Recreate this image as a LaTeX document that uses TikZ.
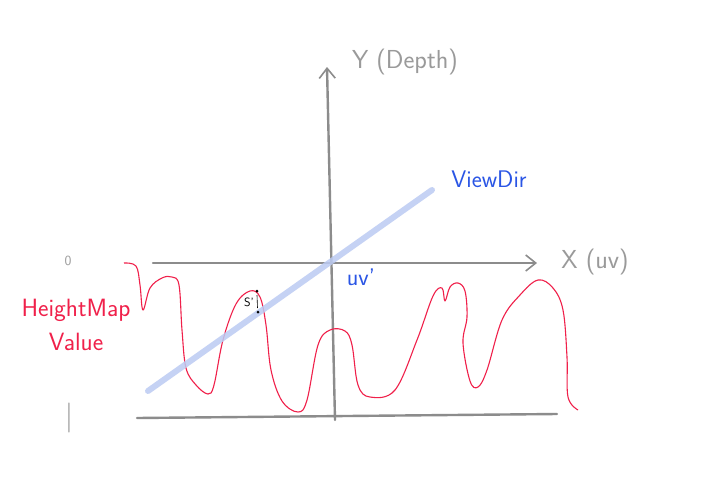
\documentclass[tikz,border=0pt]{standalone}
\usetikzlibrary{arrows.meta}
\definecolor{axisgray}{HTML}{8C8C8C}
\definecolor{hred}{HTML}{F0204A}
\definecolor{vblue}{HTML}{BCCBF3}
\definecolor{tblue}{HTML}{2A55E5}
\definecolor{tgray}{HTML}{9A9A9A}
\begin{document}
\begin{tikzpicture}[x=1pt,y=-1pt,
  axis/.style={draw=axisgray,line width=2.4pt,line cap=round},
  axisarrow/.style={axis,-{Straight Barb[length=10pt,width=16pt,line width=1.6pt]}},
  curve/.style={draw=hred,line width=1.1pt,line join=round},
  viewline/.style={draw=vblue,line width=6pt,line cap=round,opacity=0.85},
  graylabel/.style={text=tgray,font=\sffamily\fontsize{26}{28}\selectfont,inner sep=0pt},
  redlabel/.style={text=hred,font=\sffamily\fontsize{25}{34}\selectfont,align=center,inner sep=0pt},
  bluelabel/.style={text=tblue,font=\sffamily\fontsize{24}{26}\selectfont,inner sep=0pt}]
\useasboundingbox[fill=white] (0,0) rectangle (716,491);
% axes
\coordinate (ytop) at (327,67);
\coordinate (ybot) at (335,420);
\coordinate (xl) at (153,263);
\coordinate (xr) at (537,263);
\coordinate (bl) at (137,418);
\coordinate (br) at (557,414);
\coordinate (vs) at (148,391);
\coordinate (ve) at (432,190);
\draw[axisarrow] (ybot) -- (ytop);
\draw[axisarrow] (xl) -- (xr);
\draw[axis] (bl) -- (br);
% height map curve
\draw[curve] plot[smooth,tension=0.6] coordinates {
 (124,263) (136,266) (140,285) (143,310) (150,288) (162,278) (172,277) (179,285)
 (182,330) (186,368) (196,385) (208,394) (214,385) (223,340) (236,304)
 (250,291) (260,297) (266,325) (271,370) (282,401) (298,412) (307,400)
 (318,345) (330,330) (345,331) (352,345) (358,385) (370,397) (395,390)
 (417,340) (433,296) (442,288) (445,301) (450,287) (458,283) (465,291)
 (467,317) (463,343) (470,381) (478,387) (487,370) (502,320) (520,295)
 (538,280) (553,288) (563,310) (567,357) (568,397) (578,410)};
% view direction
\draw[viewline] (vs) -- (ve);
% S' marker
\fill (257,291) circle (1.5pt);
\fill (258,312) circle (1.5pt);
\draw[line width=0.6pt] (257,295) -- (257.5,308);
\node[font=\sffamily\fontsize{12}{12}\selectfont,inner sep=0pt] (sp) at (249,302) {S'};
% labels
\node[graylabel] (ylab) at (405,62) {Y (Depth)};
\node[graylabel] (xlab) at (595,262) {X (uv)};
\node[bluelabel] (vdlab) at (489,179) {ViewDir};
\node[bluelabel] (uvlab) at (361,277) {uv'};
\node[redlabel] (hmlab) at (76,325) {HeightMap\\Value};
\node[graylabel,font=\sffamily\fontsize{14}{14}\selectfont] (zero) at (68,261) {0};
\node[graylabel,font=\sffamily\fontsize{30}{32}\selectfont] (one) at (69,418) {|};
\end{tikzpicture}
\end{document}
